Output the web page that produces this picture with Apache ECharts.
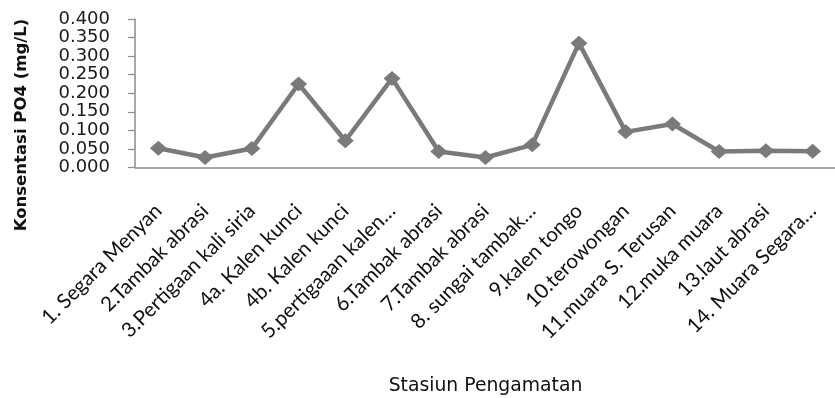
<!DOCTYPE html>
<html>
<head>
<meta charset="utf-8">
<script src="https://cdn.jsdelivr.net/npm/echarts@6/dist/echarts.min.js"></script>
<style>
  html, body { margin: 0; padding: 0; background: #ffffff; }
  #chart { width: 835px; height: 398px; }
</style>
</head>
<body>
<div id="chart"></div>
<script>
// Sampling stations (x axis) and phosphate concentration (mg/L)
const stations = [
  "1. Segara Menyan",
  "2.Tambak abrasi",
  "3.Pertigaan kali siria",
  "4a. Kalen kunci",
  "4b. Kalen kunci",
  "5.pertigaaan kalen…",
  "6.Tambak abrasi",
  "7.Tambak abrasi",
  "8. sungai tambak…",
  "9.kalen tongo",
  "10.terowongan",
  "11.muara S. Terusan",
  "12.muka muara",
  "13.laut abrasi",
  "14. Muara Segara…"
];
const po4 = [0.052, 0.027, 0.051, 0.225, 0.072, 0.240, 0.043, 0.027, 0.061, 0.335, 0.096, 0.117, 0.043, 0.045, 0.044];
const yTicks = { min: 0, max: 0.4, step: 0.05 };
const yTitle = 'Konsentasi PO4 (mg/L)';
const xTitle = 'Stasiun Pengamatan';

const chart = echarts.init(document.getElementById('chart'), null, { renderer: 'canvas' });
const grey = '#7a7a7a';

chart.setOption({
  animation: false,
  backgroundColor: '#ffffff',
  grid: {
    left: 135, right: -1, top: 19, bottom: 230.5,
    containLabel: false,
    outerBoundsMode: 'none'
  },
  // vertical axis title, centred lower than the plot area
  graphic: [{
    type: 'text',
    x: 22,
    y: 125,
    rotation: Math.PI / 2,
    style: {
      text: yTitle,
      fontFamily: 'DejaVu Sans',
      fontWeight: 'bold',
      fontSize: 16.5,
      fill: '#111',
      align: 'center',
      verticalAlign: 'middle'
    }
  }],
  xAxis: {
    type: 'category',
    data: stations,
    boundaryGap: true,
    name: xTitle,
    nameLocation: 'middle',
    nameGap: 209,
    nameTextStyle: { fontFamily: 'DejaVu Sans', fontSize: 18.8, color: '#111' },
    axisLine: { lineStyle: { color: '#8c8c8c', width: 1.5 } },
    axisTick: { show: false },
    axisLabel: {
      interval: 0,
      rotate: 45,
      margin: 40,
      hideOverlap: false,
      fontFamily: 'Lato',
      fontSize: 20.5,
      color: '#111'
    }
  },
  yAxis: {
    type: 'value',
    min: yTicks.min,
    max: yTicks.max,
    interval: yTicks.step,
    axisLine: { show: true, lineStyle: { color: '#8c8c8c', width: 1.5 } },
    axisTick: { show: true, inside: false, length: 7, lineStyle: { color: '#8c8c8c', width: 1.2 } },
    splitLine: { show: false },
    axisLabel: {
      margin: 25,
      showMinLabel: true,
      showMaxLabel: true,
      hideOverlap: false,
      fontFamily: 'DejaVu Sans',
      fontSize: 18,
      color: '#1a1a1a',
      formatter: v => v.toFixed(3)
    }
  },
  series: [{
    type: 'line',
    data: po4,
    symbol: 'diamond',
    symbolSize: [17, 15],
    lineStyle: { color: grey, width: 4.5 },
    itemStyle: { color: grey },
    z: 3
  }]
});
</script>
</body>
</html>
